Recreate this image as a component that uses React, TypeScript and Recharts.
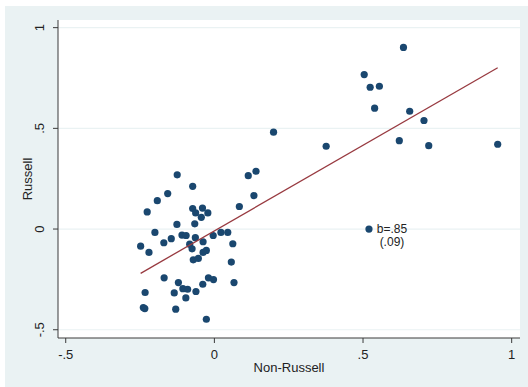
import React from 'react';
import { ScatterChart, Scatter, XAxis, YAxis, CartesianGrid } from 'recharts';

// Residualised scores: Non-Russell (x) vs Russell (y)
const nonRussell = [
  -0.073, -0.157, -0.192, -0.226, -0.073, -0.040, -0.063, -0.022, -0.044, -0.126,
  -0.066, -0.200, -0.109, -0.095, -0.064, -0.004, 0.022, 0.045, -0.145, -0.170,
  -0.038, -0.083, -0.248, 0.062, -0.075, -0.220, -0.027, -0.038, -0.071, -0.054,
  0.057, -0.169, -0.020, -0.003, -0.121, -0.039, 0.066, -0.106, -0.090, -0.233,
  -0.135, -0.062, -0.096, -0.239, -0.234, -0.130, -0.027, 0.133, 0.084, 0.140,
  0.114, 0.199, 0.376, 0.636, 0.504, 0.524, 0.555, 0.539, 0.657, 0.705,
  0.622, 0.721, 0.953, -0.125,
];
const russell = [
  0.212, 0.176, 0.141, 0.085, 0.102, 0.104, 0.080, 0.080, 0.058, 0.023,
  0.026, -0.017, -0.030, -0.032, -0.043, -0.032, -0.017, -0.017, -0.048, -0.068,
  -0.063, -0.075, -0.085, -0.073, -0.098, -0.116, -0.106, -0.116, -0.153, -0.146,
  -0.164, -0.242, -0.242, -0.251, -0.266, -0.274, -0.266, -0.296, -0.299, -0.315,
  -0.317, -0.310, -0.342, -0.390, -0.395, -0.398, -0.448, 0.166, 0.112, 0.287,
  0.265, 0.481, 0.411, 0.902, 0.767, 0.704, 0.709, 0.600, 0.585, 0.539,
  0.439, 0.414, 0.421, 0.269,
];

// Linear fit
const slope = 0.85;
const slopeSE = 0.09;
const intercept = -0.009;
const fitRange = [-0.248, 0.953];

// Coefficient marker
const coefX = [0.52];
const coefY = [0];

const xTicks = [-0.5, 0, 0.5, 1];
const yTicks = [-0.5, 0, 0.5, 1];

const NAVY = '#1a476f';
const MAROON = '#983a40';
const FRAME = '#eaf2f3';
const AXIS = '#3a3a3a';
const FONT = '"Liberation Sans", Arial, sans-serif';

const fmt = (v: number) => {
  const s = String(Math.abs(v)).replace(/^0\./, '.');
  return (v < 0 ? '-' : '') + s;
};

const points = nonRussell.map((x, i) => ({ x, y: russell[i] }));
const fitLine = fitRange.map((x) => ({ x, y: intercept + slope * x }));
const coefPoint = coefX.map((x, i) => ({ x, y: coefY[i] }));

const Dot = (props: any) => {
  const { cx, cy } = props;
  if (cx == null || cy == null) return <g />;
  return <circle cx={cx} cy={cy} r={3.6} fill={NAVY} />;
};

const CoefMarker = (props: any) => {
  const { cx, cy } = props;
  if (cx == null || cy == null) return <g />;
  const tx = cx + 23;
  return (
    <g>
      <circle cx={cx} cy={cy} r={3.6} fill={NAVY} />
      <text x={tx} y={cy} dy="0.35em" textAnchor="middle" fontSize={12} fontFamily={FONT} fill="#222">
        {`b=${fmt(slope)}`}
      </text>
      <text x={tx} y={cy + 13} dy="0.35em" textAnchor="middle" fontSize={12} fontFamily={FONT} fill="#222">
        {`(${fmt(slopeSE)})`}
      </text>
    </g>
  );
};

const XTick = (props: any) => {
  const { x, y, payload } = props;
  return (
    <text x={x} y={y} dy="0.71em" textAnchor="middle" fontSize={13} fontFamily={FONT} fill="#222">
      {fmt(payload.value)}
    </text>
  );
};

const YTick = (props: any) => {
  const { x, y, payload } = props;
  return (
    <text
      x={x}
      y={y}
      transform={`rotate(-90 ${x} ${y})`}
      textAnchor="middle"
      dominantBaseline="central"
      fontSize={13}
      fontFamily={FONT}
      fill="#222"
    >
      {fmt(payload.value)}
    </text>
  );
};

const YLabel = (props: any) => {
  const vb = props.viewBox || {};
  const x = vb.x + 27;
  const y = vb.y + vb.height / 2;
  return (
    <text
      x={x}
      y={y}
      transform={`rotate(-90 ${x} ${y})`}
      textAnchor="middle"
      dominantBaseline="central"
      fontSize={13}
      fontFamily={FONT}
      fill="#222"
    >
      Russell
    </text>
  );
};

const XLabel = (props: any) => {
  const vb = props.viewBox || {};
  const x = vb.x + vb.width / 2;
  const y = vb.y + 29;
  return (
    <text x={x} y={y} dominantBaseline="central" textAnchor="middle" fontSize={13} fontFamily={FONT} fill="#222">
      Non-Russell
    </text>
  );
};

export default function App() {
  return (
    <div style={{ position: 'fixed', left: 0, top: 0, width: 528, height: 387, background: '#ffffff' }}>
      <div style={{ position: 'absolute', left: 5, top: 6, width: 523, height: 381, background: FRAME }} />
      <div style={{ position: 'absolute', left: 0, top: 0 }}>
        <ScatterChart width={528} height={387} margin={{ top: 20, right: 8, bottom: 0, left: 0 }}>
          <CartesianGrid fill="#ffffff" vertical={false} stroke={FRAME} strokeWidth={1.2} horizontalValues={yTicks} />
          <XAxis
            type="number"
            dataKey="x"
            domain={[-0.526, 1.028]}
            ticks={xTicks}
            height={49}
            tick={<XTick />}
            tickSize={5}
            tickMargin={7}
            stroke={AXIS}
            allowDataOverflow
            label={<XLabel />}
          />
          <YAxis
            type="number"
            dataKey="y"
            domain={[-0.541, 1.038]}
            ticks={yTicks}
            width={58}
            tick={<YTick />}
            tickSize={5}
            tickMargin={13}
            stroke={AXIS}
            allowDataOverflow
            label={<YLabel />}
          />
          <Scatter data={points} shape={<Dot />} isAnimationActive={false} />
          <Scatter
            data={fitLine}
            line={{ stroke: MAROON, strokeWidth: 1.3 }}
            lineType="joint"
            shape={() => <g />}
            isAnimationActive={false}
          />
          <Scatter data={coefPoint} shape={<CoefMarker />} isAnimationActive={false} />
        </ScatterChart>
      </div>
    </div>
  );
}
